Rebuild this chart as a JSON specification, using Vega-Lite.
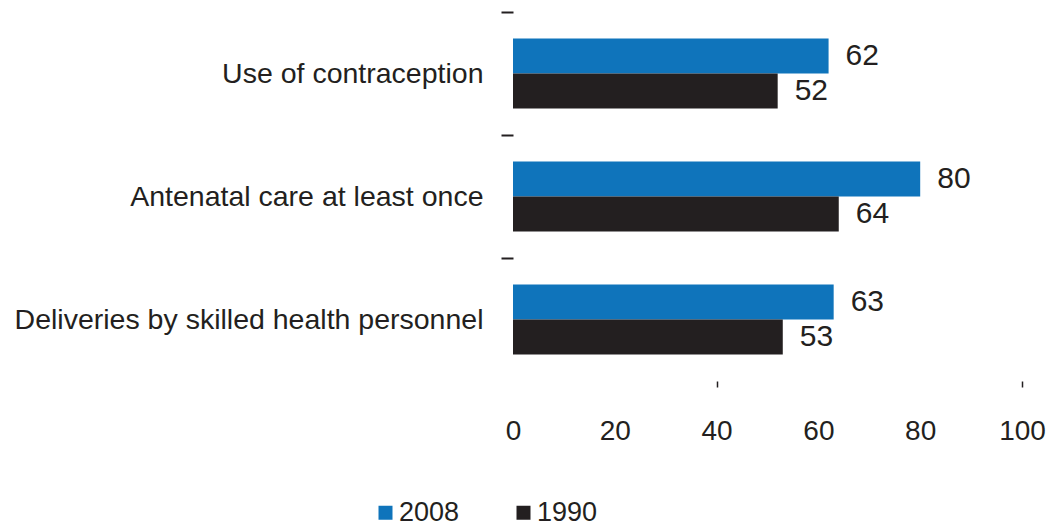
{
  "$schema": "https://vega.github.io/schema/vega-lite/v6.json",
  "autosize": {"type": "none"},
  "width": 509,
  "height": 369,
  "padding": {"left": 513, "top": 12, "right": 31, "bottom": 145},
  "background": "white",
  "config": {
    "view": {"stroke": null},
    "font": "Liberation Sans",
    "text": {"font": "Liberation Sans"}
  },
  "data": {
    "values": [
      {"indicator": "Use of contraception", "year": "2008", "value": 62},
      {"indicator": "Use of contraception", "year": "1990", "value": 52},
      {"indicator": "Antenatal care at least once", "year": "2008", "value": 80},
      {"indicator": "Antenatal care at least once", "year": "1990", "value": 64},
      {"indicator": "Deliveries by skilled health personnel", "year": "2008", "value": 63},
      {"indicator": "Deliveries by skilled health personnel", "year": "1990", "value": 53}
    ]
  },
  "encoding": {
    "y": {
      "field": "indicator",
      "type": "nominal",
      "sort": ["Use of contraception", "Antenatal care at least once", "Deliveries by skilled health personnel"],
      "scale": {"paddingInner": 0.43, "paddingOuter": 0.215},
      "axis": {
        "title": null,
        "domain": false,
        "bandPosition": 0,
        "tickExtra": false,
        "tickOffset": -26,
        "labelOffset": 26,
        "tickSize": 12,
        "tickWidth": 2,
        "tickColor": "#231f20",
        "labelPadding": 18,
        "labelFontSize": 28.5,
        "labelColor": "#231f20",
        "labelFont": "Liberation Sans",
        "labelLimit": 600
      }
    },
    "yOffset": {
      "field": "year",
      "type": "nominal",
      "scale": {"domain": ["2008", "1990"], "paddingInner": 0, "paddingOuter": 0}
    },
    "x": {
      "field": "value",
      "type": "quantitative",
      "scale": {"domain": [0, 100], "nice": false},
      "axis": {
        "title": null,
        "domain": false,
        "grid": false,
        "values": [0, 20, 40, 60, 80, 100],
        "tickSize": 6,
        "tickWidth": 1.5,
        "tickColor": {"condition": {"test": "datum.value == 40 || datum.value == 100", "value": "#231f20"}, "value": "transparent"},
        "labelPadding": 30,
        "labelFontSize": 28,
        "labelColor": "#231f20",
        "labelFont": "Liberation Sans",
        "labelFlush": false
      }
    }
  },
  "layer": [
    {
      "mark": {"type": "bar"},
      "encoding": {
        "color": {
          "field": "year",
          "type": "nominal",
          "scale": {"domain": ["2008", "1990"], "range": ["#0f74bb", "#231f20"]},
          "legend": {
            "title": null,
            "orient": "none",
            "direction": "horizontal",
            "legendX": -141,
            "legendY": 487,
            "symbolType": "square",
            "symbolSize": 196,
            "symbolStrokeWidth": 0,
            "labelFontSize": 27,
            "labelColor": "#231f20",
            "labelFont": "Liberation Sans",
            "labelOffset": 0,
            "columnPadding": 50,
            "padding": 0
          }
        }
      }
    },
    {
      "mark": {"type": "text", "align": "left", "baseline": "middle", "dx": 17, "fontSize": 30, "color": "#231f20", "font": "Liberation Sans"},
      "encoding": {
        "text": {"field": "value", "type": "quantitative"}
      }
    }
  ]
}
